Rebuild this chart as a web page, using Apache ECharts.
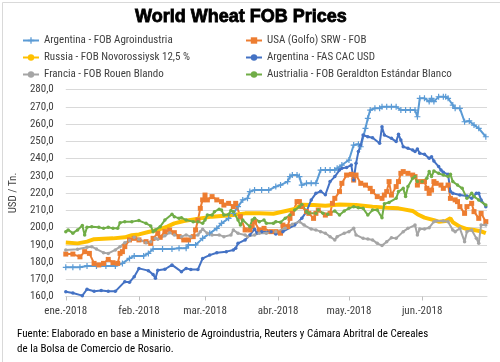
<!DOCTYPE html>
<html>
<head>
<meta charset="utf-8">
<script src="https://cdn.jsdelivr.net/npm/echarts@6/dist/echarts.min.js"></script>
<style>html,body{margin:0;padding:0;background:#fff}#c{width:500px;height:362px}</style>
</head>
<body>
<div id="c"></div>
<script>
// x values: days since 2018-01-01
const monthLabels = ['ene.-2018','feb.-2018','mar.-2018','abr.-2018','may.-2018','jun.-2018'];
const seriesNames = ['Argentina - FOB Agroindustria','USA (Golfo) SRW - FOB','Russia - FOB Novorossiysk 12,5 %','Argentina - FAS CAC USD','Francia - FOB Rouen Blando','Austrialia - FOB Geraldton Estándar Blanco'];

const argFob = [[0,176.9],[3,176.9],[6,176.9],[9,177.7],[13,177.7],[17,177.7],[21,177.7],[24,179.2],[27,182.1],[29,183.5],[33,183.5],[35,185],[37,187.5],[41,187.5],[45,187.5],[48,188],[51,188],[52,189.9],[55,189.9],[58,193.7],[61,196.6],[64,199.5],[66,202.4],[69,205.3],[71,208.2],[73,212.1],[75,216],[77,216.9],[78,220.8],[80,221.7],[83,221.7],[86,221.7],[89,223.7],[91,224.6],[94,226.6],[95,229.5],[96,230.4],[98,230.4],[99,229.5],[100,224.6],[102,225.6],[104,225.6],[106,225.6],[108,233.3],[110,233.3],[112,233.3],[114,233.3],[115,234.3],[117,236.2],[120,239.1],[122,247.8],[124,248.3],[125,246.8],[127,257.5],[128,263.3],[129,268.1],[131,269.1],[133,269.1],[134,270],[136,270],[138,270],[140,270],[142,268.1],[144,268.1],[146,268.1],[148,268.1],[149,264.2],[150,274.9],[152,274.9],[154,273],[155,274.9],[156,273],[158,275.8],[160,275.8],[161,275.8],[162,274.9],[164,271],[165,269.1],[167,269.1],[169,261.3],[171,261.8],[173,259.4],[175,257.5],[178,252.6]];

const usaSrw = [[0,184.6],[3,184.6],[6,183],[8,186],[10,185],[12,179.2],[14,178.3],[16,179.2],[18,181.5],[20,179.6],[22,179.2],[23,185],[24,186],[25,188.9],[27,192.8],[29,193.7],[31,192.8],[34,191.8],[36,190.8],[37,193.7],[39,196.6],[40,194.3],[42,197.6],[44,198.5],[46,197],[48,194.7],[50,192.8],[52,192.8],[54,194.7],[55,198.6],[56,204.3],[57,211.1],[58,216],[59,218.8],[60,216],[62,217.9],[64,216],[66,215],[67,213],[69,214],[71,212.1],[72,214],[74,206.3],[76,198.6],[78,198.6],[79,200.5],[80,203.4],[82,198.6],[84,199.5],[87,197.6],[89,197.6],[91,196.7],[92,201.4],[94,200.5],[95,205.3],[96,208.2],[98,215],[99,215],[100,212.1],[102,209.2],[103,208.2],[105,205.3],[106,208.2],[107,210.1],[110,207.2],[112,208.2],[113,214],[114,216.9],[116,220.8],[117,225.6],[119,230.4],[121,230.8],[122,227.5],[123,230.4],[125,225.6],[127,224.6],[129,222.7],[130,220.8],[132,217.9],[134,216.9],[135,218.8],[136,220.8],[137,226.6],[138,218.8],[140,223.7],[141,226.6],[142,231.4],[143,232.4],[145,231.4],[147,230.4],[148,229.5],[149,224.6],[150,226.6],[152,226.6],[153,222.7],[154,219.8],[155,221.7],[156,226.6],[157,225.6],[159,224.6],[160,222.7],[162,224.6],[163,216.9],[165,216],[166,215],[167,212.1],[169,208.2],[170,212.1],[172,214],[173,209.2],[175,205.3],[176,208.2],[178,203.4]];

const russia = [[0,191.3],[5,190.8],[9,191.8],[12,193.2],[20,193.7],[25,194.3],[28,195.5],[31,196],[35,197.4],[39,198.6],[43,200.5],[46,202.4],[50,203.8],[57,205.3],[62,206.3],[71,207.2],[76,208.2],[82,208.2],[88,208],[97,210.7],[100,213.2],[105,213],[110,212.6],[116,213.4],[123,213],[130,212.1],[136,211.5],[141,211.1],[147,209.6],[149,207.7],[152,205.7],[156,204.3],[158,203.4],[161,203.8],[163,205.3],[164,203],[167,200.5],[170,199.1],[173,198.6],[176,197.8],[178,196.7]];

const argFas = [[0,162.8],[3,162],[7,160.5],[9,164.2],[12,163],[15,163.5],[18,163],[21,163],[25,168.6],[27,168.2],[29,171.5],[31,176.3],[35,175],[37,172.7],[38,170.6],[39,175.2],[42,175.8],[45,178.3],[49,174.4],[51,176.3],[53,175.7],[56,175.7],[58,182.1],[61,184],[64,185.4],[68,186],[71,187],[72,188],[73,190.8],[76,192.8],[78,195.6],[80,199],[81,196.8],[83,197.6],[87,197.6],[89,196.2],[92,197.6],[97,201.4],[100,205.3],[102,209.2],[104,216],[106,219.8],[108,221],[110,219],[112,226.6],[114,229.5],[116,233.3],[117,234.3],[119,234.8],[121,236.2],[122,227.5],[123,237.2],[124,244],[125,247.8],[126,253.6],[128,252.6],[130,252],[133,248.8],[134,258.4],[135,253.6],[138,251.7],[140,249.8],[141,254],[142,250.7],[143,246.8],[145,245.9],[147,244.9],[148,244],[149,245.5],[150,243],[152,242.4],[154,240.1],[155,241],[156,238.5],[158,235.3],[159,233.3],[160,232],[162,230.8],[163,220.8],[164,219.8],[167,218.8],[170,218.3],[172,216.9],[174,219.8],[175,219.8],[176,216],[178,212.1]];

const francia = [[0,187],[5,187.4],[9,188.5],[11,188.9],[13,187.5],[16,185.4],[18,185],[21,187],[23,188.9],[25,191.2],[27,192.4],[29,194.3],[31,193.2],[34,191.2],[36,191.8],[38,193.7],[39,193.2],[42,195.2],[44,197],[46,195.7],[49,194.7],[51,195.7],[53,194.7],[56,195.7],[57,197.6],[58,199],[60,196.6],[62,195.7],[65,195.7],[67,194.7],[70,195.7],[71,198.6],[73,196.6],[76,195.7],[77,194.7],[80,195.7],[82,196.6],[85,196.6],[89,197.6],[93,199.5],[96,201.9],[99,203.4],[101,201.4],[104,199.1],[106,198.6],[108,197.6],[110,196.7],[112,194.7],[114,192.8],[115,194.7],[118,196.7],[120,197.6],[122,199.5],[123,195.7],[126,193.7],[128,193.3],[130,192.8],[132,190.8],[134,189.5],[136,191.8],[138,194.1],[140,193.7],[143,197.6],[145,199.5],[148,201.4],[149,195.7],[150,199.1],[152,199.1],[154,199.9],[156,203.4],[157,203.8],[160,203.8],[162,203.4],[164,198.6],[165,197.6],[167,199.5],[169,191.8],[170,197.6],[172,198.6],[174,193.7],[175,190.8],[176,201.4],[178,201.4]];

const australia = [[0,197.6],[1,198.6],[3,196.7],[5,198.6],[7,201.2],[8,195.7],[9,200.1],[11,200.5],[14,200.1],[16,199.5],[18,200.1],[20,199.5],[22,199.5],[23,202.8],[25,203.4],[28,203.4],[31,204],[34,202.4],[36,200.9],[37,197.6],[38,198.6],[40,200.5],[42,204.3],[45,207.7],[46,206.3],[48,205.3],[49,205.7],[51,204.3],[54,203.4],[56,203.4],[58,202.4],[59,204.3],[60,207.2],[62,207.2],[63,209.2],[65,210.6],[66,210.1],[67,207.2],[69,207.6],[70,209.8],[71,209.2],[73,204.3],[74,201.4],[75,204.3],[78,200.5],[79,204.3],[80,205.3],[82,203.4],[84,204.3],[85,202.4],[88,202.4],[89,203.4],[91,203],[93,205.3],[95,207.2],[97,210.1],[99,212.1],[100,213.4],[102,209.2],[103,208.2],[106,208.2],[107,210.1],[109,208.2],[111,207.7],[114,209.6],[116,207.2],[118,209.6],[120,211.1],[122,212.1],[124,211.5],[126,211.1],[128,207.2],[130,210.1],[132,210.1],[134,205.7],[135,213.8],[137,214.5],[140,216.9],[141,220.8],[143,222.7],[144,217.9],[145,223.7],[147,228.5],[148,229.5],[149,226.6],[151,226.6],[153,228.5],[154,232.4],[155,229.5],[156,232.8],[158,231.4],[160,230.4],[162,229.5],[163,230.8],[164,226.6],[166,224.6],[168,222.7],[170,216.9],[172,219.8],[173,217.9],[175,216],[178,213]];

const DAY = 86400000;
const base = new Date(2018, 0, 1).getTime();
const toTime = arr => arr.map(p => [base + p[0] * DAY, p[1]]);

const FONT = "'Liberation Sans Narrow', 'Roboto Condensed', Lato, sans-serif";
const plus = 'path://M4,0H6V4H10V6H6V10H4V6H0V4H4Z';

function lineSeries(name, data, color, symbol, size, width) {
  return {
    name, type: 'line', data: toTime(data),
    symbol: symbol || 'none', symbolSize: size || 0, showSymbol: !!symbol,
    lineStyle: { color, width: width || 2 },
    itemStyle: { color, borderWidth: 0 },
    emphasis: { disabled: true }
  };
}

const chart = echarts.init(document.getElementById('c'), null, { renderer: 'canvas' });
chart.setOption({
  animation: false,
  backgroundColor: '#fff',
  title: {
    text: 'World Wheat FOB Prices', left: 130, top: 3,
    textStyle: { fontFamily: "'Liberation Sans', Arial, sans-serif", fontWeight: 'bold', fontSize: 18, color: '#000', textBorderColor: '#000', textBorderWidth: 0.8 }
  },
  legend: [
    { data: [seriesNames[0], seriesNames[2], seriesNames[4]], orient: 'vertical', left: 17, top: 29, itemWidth: 16, itemHeight: 8, itemGap: 4,
      textStyle: { fontFamily: FONT, fontSize: 11, color: '#404040', lineHeight: 13 } },
    { data: [seriesNames[1], seriesNames[3], seriesNames[5]], orient: 'vertical', left: 240, top: 29, itemWidth: 16, itemHeight: 8, itemGap: 4,
      textStyle: { fontFamily: FONT, fontSize: 11, color: '#404040', lineHeight: 13 } }
  ],
  grid: { left: 55, right: 13, top: 89.5, bottom: 65.5, containLabel: false },
  xAxis: {
    type: 'time', min: base, max: base + 178.5 * DAY, splitNumber: 6,
    splitLine: { show: false },
    axisLine: { lineStyle: { color: '#d9d9d9' } },
    axisTick: { show: true, length: 4, lineStyle: { color: '#bfbfbf' } },
    axisLabel: {
      fontFamily: FONT, fontSize: 11, color: '#404040', margin: 9, hideOverlap: false,
      formatter: v => { const d = new Date(v); return d.getDate() === 1 ? monthLabels[d.getMonth()] : ''; }
    }
  },
  yAxis: {
    type: 'value', min: 160, max: 280, interval: 10,
    name: 'USD / Tn.', nameLocation: 'middle', nameGap: 37,
    nameTextStyle: { fontFamily: FONT, fontSize: 11, color: '#404040' },
    axisLine: { show: false }, axisTick: { show: false },
    splitLine: { lineStyle: { color: '#d9d9d9', width: 1 } },
    axisLabel: { fontFamily: FONT, fontSize: 11, color: '#404040', margin: 12, formatter: v => v.toFixed(1).replace('.', ',') }
  },
  series: [
    lineSeries(seriesNames[0], argFob, '#5B9BD5', plus, 6, 2),
    lineSeries(seriesNames[1], usaSrw, '#ED7D31', 'rect', 5, 2),
    lineSeries(seriesNames[2], russia, '#FFC000', null, 0, 4),
    lineSeries(seriesNames[3], argFas, '#4472C4', 'circle', 3.5, 2),
    lineSeries(seriesNames[4], francia, '#A5A5A5', 'circle', 3.5, 2),
    lineSeries(seriesNames[5], australia, '#70AD47', 'circle', 3.5, 2)
  ],
  graphic: [
    { type: 'rect', left: 0, top: 0, shape: { x: 0.5, y: 0.5, width: 499, height: 361 }, style: { fill: 'none', stroke: '#d9d9d9', lineWidth: 1 }, silent: true },
    { type: 'text', left: 17, top: 329, style: { text: 'Fuente: Elaborado en base a Ministerio de Agroindustria, Reuters y Cámara Abritral de Cereales', font: "11px " + FONT, fill: '#000' } },
    { type: 'text', left: 17, top: 344, style: { text: 'de la Bolsa de Comercio de Rosario.', font: "11px " + FONT, fill: '#000' } }
  ]
});
</script>
</body>
</html>
